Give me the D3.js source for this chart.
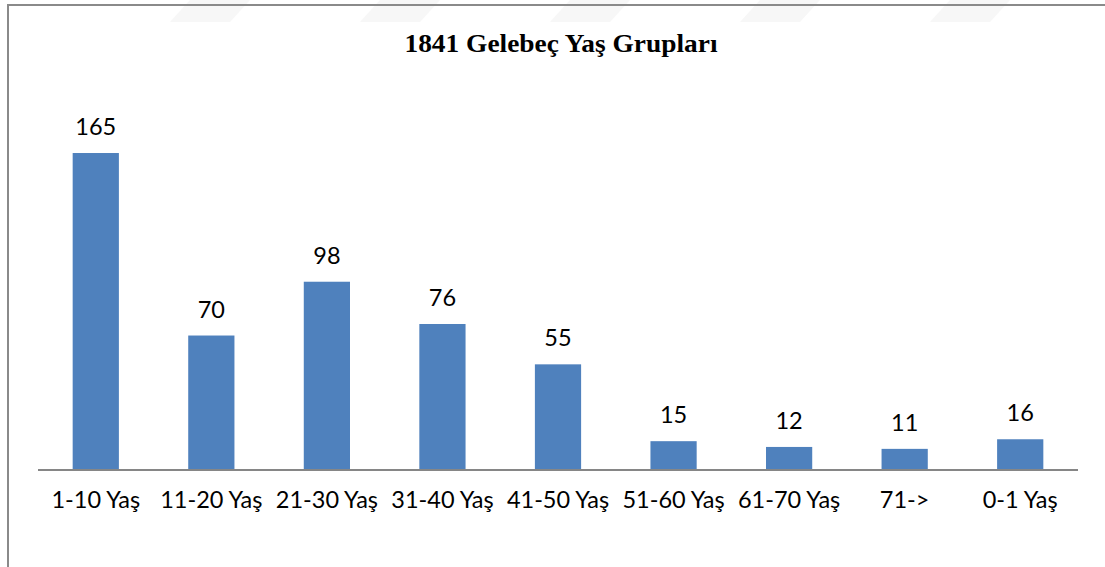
<!DOCTYPE html>
<html>
<head>
<meta charset="utf-8">
<script src="https://cdn.jsdelivr.net/npm/d3@7"></script>
<style>
  html, body { margin: 0; padding: 0; background: #ffffff; }
  svg { display: block; }
</style>
</head>
<body>
<svg id="chart" width="1105" height="567"></svg>
<script>
// Age groups and head counts
const categories = ["1-10 Yaş", "11-20 Yaş", "21-30 Yaş", "31-40 Yaş", "41-50 Yaş", "51-60 Yaş", "61-70 Yaş", "71->", "0-1 Yaş"];
const counts = [165, 70, 98, 76, 55, 15, 12, 11, 16];
const title = "1841 Gelebeç Yaş Grupları";

const svg = d3.select("#chart");
const W = 1105, H = 567;

// faint diagonal marks across the very top edge
const marks = [190, 380, 570, 760, 950];
svg.selectAll("polygon.mark").data(marks).join("polygon")
  .attr("class", "mark")
  .attr("points", d => `${d},0 ${d + 60},0 ${d + 40},22 ${d - 20},22`)
  .attr("fill", "#f7f7f7");

// outer frame: top and left edges
svg.append("line").attr("x1", 8).attr("x2", W).attr("y1", 5).attr("y2", 5)
  .attr("stroke", "#8a8a8a").attr("stroke-width", 2);
svg.append("line").attr("x1", 8).attr("x2", 8).attr("y1", 4).attr("y2", H)
  .attr("stroke", "#8a8a8a").attr("stroke-width", 2);

const x = d3.scaleBand().domain(categories).range([38, 1078]).paddingInner(0.6).paddingOuter(0.3);
const y = d3.scaleLinear().domain([0, 180]).range([470, 124.2]);

// bars
svg.selectAll("rect.bar").data(counts).join("rect")
  .attr("class", "bar")
  .attr("x", (d, i) => x(categories[i]))
  .attr("width", x.bandwidth())
  .attr("y", d => y(d))
  .attr("height", d => y(0) - y(d))
  .attr("fill", "#4f81bd");

// category axis
const axis = svg.append("g").attr("transform", `translate(0,${y(0)})`)
  .call(d3.axisBottom(x).tickSize(0).tickPadding(0));
axis.select(".domain").attr("stroke", "#868686").attr("stroke-width", 2)
  .attr("d", "M38,0H1078");
axis.selectAll(".tick text")
  .attr("dy", null)
  .attr("y", 38)
  .attr("fill", "#000")
  .style("font-family", "Lato, 'Open Sans', sans-serif")
  .style("font-size", "23.5px");

// value labels
svg.selectAll("text.val").data(counts).join("text")
  .attr("class", "val")
  .attr("x", (d, i) => x(categories[i]) + x.bandwidth() / 2)
  .attr("y", d => y(d) - 18)
  .attr("text-anchor", "middle")
  .attr("fill", "#000")
  .style("font-family", "Lato, 'Open Sans', sans-serif")
  .style("font-size", "23.5px")
  .text(d => d);

// title
svg.append("text")
  .attr("x", 561).attr("y", 52)
  .attr("text-anchor", "middle")
  .attr("textLength", 313).attr("lengthAdjust", "spacingAndGlyphs")
  .style("font-family", "'Liberation Serif', 'Times New Roman', serif")
  .style("font-weight", "bold")
  .style("font-size", "26px")
  .text(title);
</script>
</body>
</html>
